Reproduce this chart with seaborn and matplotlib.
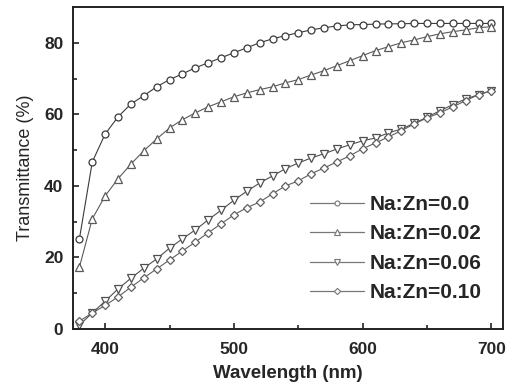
import numpy as np
import pandas as pd
import seaborn as sns
import matplotlib.pyplot as plt
from matplotlib.lines import Line2D

# wavelengths (nm), 10 nm step
wavelength = list(range(380, 701, 10))

# transmittance (%)
t_000 = [25.2, 46.7, 54.5, 59.3, 62.9, 65.2, 67.7, 69.7, 71.3, 73.0, 74.4,
         75.8, 77.2, 78.6, 80.0, 81.1, 82.0, 82.8, 83.6, 84.2, 84.7, 85.0,
         85.1, 85.2, 85.3, 85.3, 85.4, 85.4, 85.4, 85.4, 85.4, 85.4, 85.4]
t_002 = [17.3, 30.8, 37.2, 42.0, 46.1, 49.8, 53.1, 56.2, 58.5, 60.4, 62.1,
         63.5, 64.9, 66.0, 66.9, 67.7, 68.8, 69.7, 71.0, 72.2, 73.6, 75.0,
         76.4, 77.8, 78.9, 80.0, 80.8, 81.7, 82.5, 83.1, 83.6, 84.2, 84.5]
t_006 = [1.1, 4.5, 7.8, 11.2, 14.2, 17.0, 19.6, 22.6, 25.2, 27.7, 30.5,
         33.2, 36.0, 38.5, 40.8, 42.8, 44.8, 46.4, 47.8, 49.0, 50.3, 51.5,
         52.6, 53.4, 54.8, 55.9, 57.5, 59.2, 61.0, 62.7, 64.3, 65.5, 66.6]
t_010 = [2.2, 4.5, 6.6, 9.0, 11.7, 14.3, 16.8, 19.3, 21.8, 24.3, 26.9,
         29.4, 31.9, 33.9, 35.5, 37.8, 40.0, 41.4, 43.4, 45.0, 46.7, 48.4,
         50.4, 52.0, 53.7, 55.4, 57.3, 59.0, 60.4, 62.1, 63.8, 65.5, 66.6]

labels = ["Na:Zn=0.0", "Na:Zn=0.02", "Na:Zn=0.06", "Na:Zn=0.10"]
series = [t_000, t_002, t_006, t_010]
markers = ["o", "^", "v", "D"]
sizes = [5, 5.5, 5.5, 4.5]
colors = ["#3a3a3a", "#5a5a5a", "#505050", "#606060"]

sns.set_style("ticks")
plt.rcParams["font.family"] = ["Liberation Sans", "DejaVu Sans"]

fig = plt.figure(figsize=(5.15, 3.88), dpi=100)
ax = fig.add_axes([0.1417, 0.152, 0.835, 0.830])

handles = []
for lab, vals, m, s, c in zip(labels, series, markers, sizes, colors):
    sns.lineplot(x=wavelength, y=vals, ax=ax, color=c, marker=m, markersize=s,
                 markerfacecolor="white", markeredgecolor=c, markeredgewidth=0.9,
                 linewidth=0.8)
    handles.append(Line2D([], [], color="#777777", linewidth=0.9, marker=m,
                          markersize=s * 0.7, markerfacecolor="white",
                          markeredgecolor="#777777", markeredgewidth=0.8))

ax.set_xlim(375, 709)
ax.set_ylim(0, 90)
ax.set_xticks([400, 500, 600, 700])
ax.set_xticks([450, 550, 650], minor=True)
ax.set_yticks([0, 20, 40, 60, 80])
ax.set_yticks([10, 30, 50, 70], minor=True)
ax.tick_params(axis="both", which="both", direction="in", labelsize=12.5,
               width=1.2, color="#222222")
ax.tick_params(axis="both", which="major", length=4)
ax.tick_params(axis="both", which="minor", length=3)
ax.tick_params(axis="x", pad=9)
ax.tick_params(axis="y", pad=7)
for lbl in ax.get_xticklabels() + ax.get_yticklabels():
    lbl.set_fontweight("bold")
for sp in ax.spines.values():
    sp.set_linewidth(1.4)
    sp.set_color("#222222")

ax.set_xlabel("Wavelength (nm)", fontsize=13.5, fontweight="bold", labelpad=6)
ax.set_ylabel("Transmittance (%)", fontsize=13, labelpad=7)

leg = ax.legend(handles, labels, loc="lower right", bbox_to_anchor=(0.995, 0.025),
                frameon=False, prop={"size": 15, "weight": "bold"},
                handlelength=2.6, handletextpad=0.3, labelspacing=0.5)

fig.savefig("out.png", dpi=100)
